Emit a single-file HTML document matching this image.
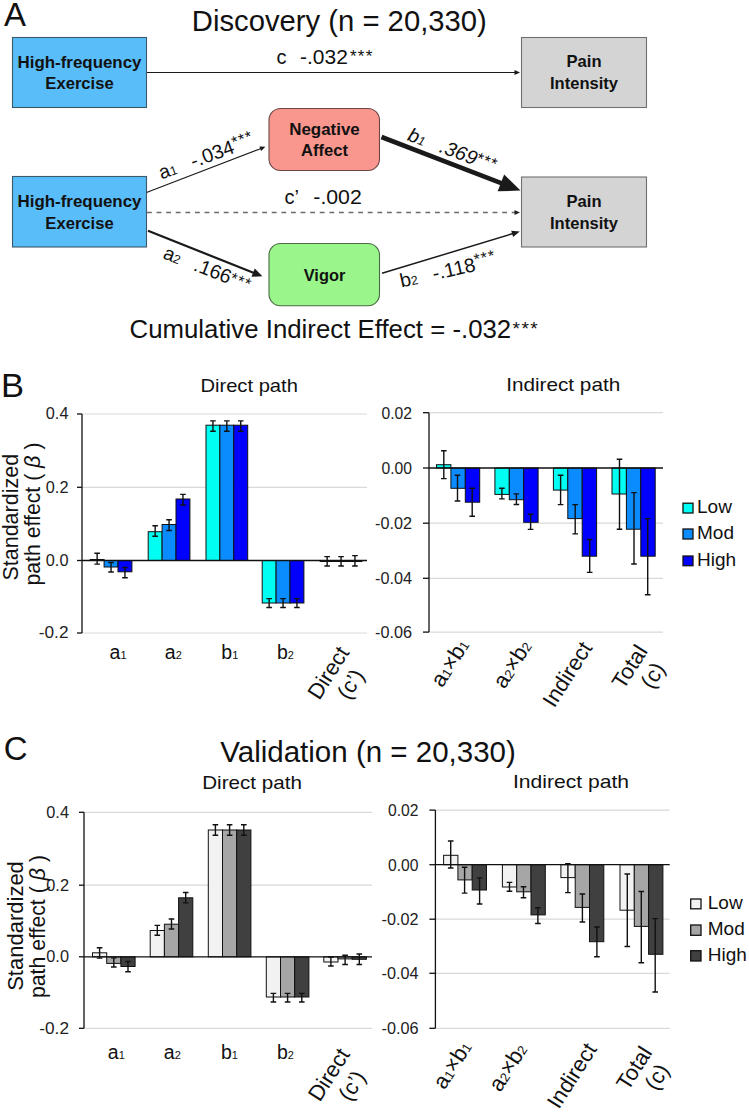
<!DOCTYPE html>
<html><head><meta charset="utf-8"><style>html,body{margin:0;padding:0;background:#fff;width:749px;height:1114px;overflow:hidden;position:relative}</style></head>
<body>
<svg width="749" height="1114" viewBox="0 0 749 1114" style="position:absolute;left:0;top:0;font-family:'Liberation Sans', sans-serif">
<rect width="749" height="1114" fill="#fff"/>
<text style="white-space:pre" x="4.0" y="25.9" font-size="33" text-anchor="start" font-weight="normal" fill="#111" >A</text>
<text style="white-space:pre" x="191.8" y="31" font-size="29.8" text-anchor="start" font-weight="normal" fill="#111" textLength="295" lengthAdjust="spacingAndGlyphs" >Discovery (n = 20,330)</text>
<rect x="12.5" y="37.5" width="134.0" height="70.0" rx="0" fill="#58bdf9" stroke="#3a5a6c" stroke-width="1.1"/>
<text style="white-space:pre" x="79.5" y="68" font-size="16.6" text-anchor="middle" font-weight="bold" fill="#111" textLength="124" lengthAdjust="spacingAndGlyphs" >High-frequency</text>
<text style="white-space:pre" x="79.5" y="88.7" font-size="16.6" text-anchor="middle" font-weight="bold" fill="#111" >Exercise</text>
<rect x="521.5" y="37.5" width="125.0" height="70.0" rx="0" fill="#d4d4d4" stroke="#707070" stroke-width="1.1"/>
<text style="white-space:pre" x="584" y="67.4" font-size="16.6" text-anchor="middle" font-weight="bold" fill="#111" >Pain</text>
<text style="white-space:pre" x="584" y="89.4" font-size="16.6" text-anchor="middle" font-weight="bold" fill="#111" textLength="68" lengthAdjust="spacingAndGlyphs" >Intensity</text>
<rect x="12.5" y="176.5" width="134.0" height="70.5" rx="0" fill="#58bdf9" stroke="#3a5a6c" stroke-width="1.1"/>
<text style="white-space:pre" x="79.5" y="207.4" font-size="16.6" text-anchor="middle" font-weight="bold" fill="#111" textLength="124" lengthAdjust="spacingAndGlyphs" >High-frequency</text>
<text style="white-space:pre" x="79.5" y="228.8" font-size="16.6" text-anchor="middle" font-weight="bold" fill="#111" >Exercise</text>
<rect x="521.5" y="177" width="125.0" height="70" rx="0" fill="#d4d4d4" stroke="#707070" stroke-width="1.1"/>
<text style="white-space:pre" x="584" y="207.3" font-size="16.6" text-anchor="middle" font-weight="bold" fill="#111" >Pain</text>
<text style="white-space:pre" x="584" y="228.6" font-size="16.6" text-anchor="middle" font-weight="bold" fill="#111" textLength="68" lengthAdjust="spacingAndGlyphs" >Intensity</text>
<rect x="269" y="108.5" width="110.5" height="62.0" rx="11.5" fill="#f9968e" stroke="#6b4846" stroke-width="1.1"/>
<text style="white-space:pre" x="324.5" y="134.6" font-size="16.6" text-anchor="middle" font-weight="bold" fill="#111" textLength="70.5" lengthAdjust="spacingAndGlyphs" >Negative</text>
<text style="white-space:pre" x="324.5" y="156" font-size="16.6" text-anchor="middle" font-weight="bold" fill="#111" >Affect</text>
<rect x="269" y="243.5" width="110.5" height="62.30000000000001" rx="11.5" fill="#9af68b" stroke="#4a6a44" stroke-width="1.1"/>
<text style="white-space:pre" x="324.5" y="281" font-size="16.6" text-anchor="middle" font-weight="bold" fill="#111" textLength="41.6" lengthAdjust="spacingAndGlyphs" >Vigor</text>
<line x1="147" y1="72.5" x2="515.50" y2="72.50" stroke="#1a1a1a" stroke-width="1.2"/>
<polygon points="520.00,72.50 514.50,75.00 514.50,70.00" fill="#1a1a1a"/>
<line x1="146.5" y1="192.5" x2="261.20" y2="148.41" stroke="#1a1a1a" stroke-width="1.1"/>
<polygon points="265.40,146.80 261.16,151.11 259.37,146.44" fill="#1a1a1a"/>
<line x1="381.5" y1="137" x2="501.83" y2="183.32" stroke="#1a1a1a" stroke-width="4.6"/>
<polygon points="520.50,190.50 497.67,191.36 504.13,174.56" fill="#1a1a1a"/>
<line x1="147" y1="212.5" x2="515.50" y2="212.50" stroke="#6a6a6a" stroke-width="1.3" stroke-dasharray="4.8,4.8"/>
<polygon points="520.00,212.50 514.50,215.00 514.50,210.00" fill="#222"/>
<line x1="148" y1="230.8" x2="254.04" y2="272.97" stroke="#1a1a1a" stroke-width="2.2"/>
<polygon points="262.40,276.30 251.44,276.79 254.77,268.42" fill="#1a1a1a"/>
<line x1="382" y1="273.3" x2="513.10" y2="233.53" stroke="#1a1a1a" stroke-width="1.5"/>
<polygon points="519.80,231.50 513.09,236.93 511.20,230.71" fill="#1a1a1a"/>
<text style="white-space:pre" x="276.6" y="64.4" font-size="20" text-anchor="start" font-weight="normal" fill="#111" >c</text>
<text style="white-space:pre" x="300" y="64.4" font-size="20.5" text-anchor="start" font-weight="normal" fill="#111" textLength="47.8" lengthAdjust="spacingAndGlyphs" >-.032</text>
<text x="350" y="62" font-size="17" fill="#111" letter-spacing="1.2">***</text>
<text style="white-space:pre" x="284.6" y="204.2" font-size="20" text-anchor="start" font-weight="normal" fill="#111" >c’</text>
<text style="white-space:pre" x="313.3" y="204.2" font-size="20.5" text-anchor="start" font-weight="normal" fill="#111" textLength="48.5" lengthAdjust="spacingAndGlyphs" >-.002</text>
<text style="white-space:pre" x="129.5" y="337.6" font-size="25.8" text-anchor="start" font-weight="normal" fill="#111" textLength="381.7" lengthAdjust="spacingAndGlyphs" >Cumulative Indirect Effect = -.032</text>
<text x="512.5" y="335" font-size="19" fill="#111" letter-spacing="1.5">***</text>
<g transform="translate(161.5,179.5) rotate(-20)"><text style="white-space:pre" x="0" y="0" font-size="19.5" fill="#111"><tspan>a</tspan><tspan font-size="12.5">1</tspan><tspan dx="16" font-size="19.8">-.034</tspan><tspan font-size="16" dy="-5" letter-spacing="1">***</tspan></text></g>
<g transform="translate(162,258) rotate(21.5)"><text style="white-space:pre" x="0" y="0" font-size="19.5" fill="#111"><tspan>a</tspan><tspan font-size="12.5">2</tspan><tspan dx="15" font-size="19.8">.166</tspan><tspan font-size="16" dy="-2" letter-spacing="1">***</tspan></text></g>
<g transform="translate(406.5,140) rotate(20.5)"><text style="white-space:pre" x="0" y="0" font-size="19.5" fill="#111"><tspan font-style="italic">b</tspan><tspan font-size="12.5" font-style="italic">1</tspan><tspan dx="16" font-size="19.8" font-style="italic">.369</tspan><tspan font-size="16" dy="-3" letter-spacing="1">***</tspan></text></g>
<g transform="translate(401.5,287.5) rotate(-12.5)"><text style="white-space:pre" x="0" y="0" font-size="19.5" fill="#111"><tspan>b</tspan><tspan font-size="12.5">2</tspan><tspan dx="15.5" font-size="19.8">-.118</tspan><tspan font-size="16" dy="-6" letter-spacing="1">***</tspan></text></g>
<text style="white-space:pre" x="1.0" y="397" font-size="32.5" text-anchor="start" font-weight="normal" fill="#111" textLength="23" lengthAdjust="spacingAndGlyphs" >B</text>
<text style="white-space:pre" x="200.4" y="391.9" font-size="17.8" text-anchor="start" font-weight="normal" fill="#111" textLength="97.5" lengthAdjust="spacingAndGlyphs" >Direct path</text>
<text style="white-space:pre" x="506.2" y="390.8" font-size="17.8" text-anchor="start" font-weight="normal" fill="#111" textLength="114" lengthAdjust="spacingAndGlyphs" >Indirect path</text>

<line x1="82" y1="414" x2="367" y2="414" stroke="#d9d9d9" stroke-width="1.2"/>
<line x1="82" y1="487.3" x2="367" y2="487.3" stroke="#d9d9d9" stroke-width="1.2"/>
<line x1="82" y1="633" x2="367" y2="633" stroke="#d9d9d9" stroke-width="1.2"/>
<line x1="82" y1="414" x2="82" y2="633" stroke="#111" stroke-width="1.3"/>
<line x1="77" y1="414" x2="82" y2="414" stroke="#111" stroke-width="1.3"/>
<line x1="77" y1="487.3" x2="82" y2="487.3" stroke="#111" stroke-width="1.3"/>
<line x1="77" y1="560.5" x2="82" y2="560.5" stroke="#111" stroke-width="1.3"/>
<line x1="77" y1="633" x2="82" y2="633" stroke="#111" stroke-width="1.3"/>
<text style="white-space:pre" x="68.5" y="419.3" font-size="15.8" text-anchor="end" font-weight="normal" fill="#222" textLength="22.7" lengthAdjust="spacingAndGlyphs" >0.4</text>
<text style="white-space:pre" x="68.5" y="492.6" font-size="15.8" text-anchor="end" font-weight="normal" fill="#222" textLength="22.7" lengthAdjust="spacingAndGlyphs" >0.2</text>
<text style="white-space:pre" x="68.5" y="565.8" font-size="15.8" text-anchor="end" font-weight="normal" fill="#222" textLength="22.7" lengthAdjust="spacingAndGlyphs" >0.0</text>
<text style="white-space:pre" x="68.5" y="638.3" font-size="15.8" text-anchor="end" font-weight="normal" fill="#222" textLength="29.7" lengthAdjust="spacingAndGlyphs" >-0.2</text>
<rect x="90.20" y="559.50" width="13.90" height="1.00" fill="#00fff2" stroke="#111" stroke-width="1"/>
<rect x="104.10" y="560.50" width="13.90" height="6.50" fill="#0a8cff" stroke="#111" stroke-width="1"/>
<rect x="118.00" y="560.50" width="13.90" height="11.30" fill="#0000ff" stroke="#111" stroke-width="1"/>
<rect x="148.20" y="531.70" width="13.90" height="28.80" fill="#00fff2" stroke="#111" stroke-width="1"/>
<rect x="162.10" y="524.50" width="13.90" height="36.00" fill="#0a8cff" stroke="#111" stroke-width="1"/>
<rect x="176.00" y="499.00" width="13.90" height="61.50" fill="#0000ff" stroke="#111" stroke-width="1"/>
<rect x="206.00" y="425.20" width="13.90" height="135.30" fill="#00fff2" stroke="#111" stroke-width="1"/>
<rect x="219.90" y="425.20" width="13.90" height="135.30" fill="#0a8cff" stroke="#111" stroke-width="1"/>
<rect x="233.80" y="425.20" width="13.90" height="135.30" fill="#0000ff" stroke="#111" stroke-width="1"/>
<rect x="262.20" y="560.50" width="13.90" height="42.50" fill="#00fff2" stroke="#111" stroke-width="1"/>
<rect x="276.10" y="560.50" width="13.90" height="42.50" fill="#0a8cff" stroke="#111" stroke-width="1"/>
<rect x="290.00" y="560.50" width="13.90" height="42.50" fill="#0000ff" stroke="#111" stroke-width="1"/>
<rect x="320.20" y="560.50" width="13.90" height="1.00" fill="#00fff2" stroke="#111" stroke-width="1"/>
<rect x="334.10" y="560.50" width="13.90" height="1.00" fill="#0a8cff" stroke="#111" stroke-width="1"/>
<rect x="348.00" y="560.50" width="13.90" height="1.00" fill="#0000ff" stroke="#111" stroke-width="1"/>
<line x1="82" y1="560.5" x2="367" y2="560.5" stroke="#111" stroke-width="1.3"/>
<path d="M97.15,553.3 V564.1 M94.35,553.3 h5.6 M94.35,564.1 h5.6" stroke="#111" stroke-width="1.4" fill="none"/>
<path d="M111.05,562.5 V572 M108.25,562.5 h5.6 M108.25,572 h5.6" stroke="#111" stroke-width="1.4" fill="none"/>
<path d="M124.95,567.5 V577.8 M122.15,567.5 h5.6 M122.15,577.8 h5.6" stroke="#111" stroke-width="1.4" fill="none"/>
<path d="M155.15,525.7 V536.3 M152.35,525.7 h5.6 M152.35,536.3 h5.6" stroke="#111" stroke-width="1.4" fill="none"/>
<path d="M169.05,519.7 V530.5 M166.25,519.7 h5.6 M166.25,530.5 h5.6" stroke="#111" stroke-width="1.4" fill="none"/>
<path d="M182.95,494.4 V505 M180.15,494.4 h5.6 M180.15,505 h5.6" stroke="#111" stroke-width="1.4" fill="none"/>
<path d="M212.95,420.9 V431.2 M210.15,420.9 h5.6 M210.15,431.2 h5.6" stroke="#111" stroke-width="1.4" fill="none"/>
<path d="M226.85,420.9 V431.2 M224.05,420.9 h5.6 M224.05,431.2 h5.6" stroke="#111" stroke-width="1.4" fill="none"/>
<path d="M240.75,420.9 V431.2 M237.95,420.9 h5.6 M237.95,431.2 h5.6" stroke="#111" stroke-width="1.4" fill="none"/>
<path d="M269.15,598.6 V607.5 M266.35,598.6 h5.6 M266.35,607.5 h5.6" stroke="#111" stroke-width="1.4" fill="none"/>
<path d="M283.05,598.6 V607.5 M280.25,598.6 h5.6 M280.25,607.5 h5.6" stroke="#111" stroke-width="1.4" fill="none"/>
<path d="M296.95,598.6 V607.5 M294.15,598.6 h5.6 M294.15,607.5 h5.6" stroke="#111" stroke-width="1.4" fill="none"/>
<path d="M327.15,556.6 V566 M324.35,556.6 h5.6 M324.35,566 h5.6" stroke="#111" stroke-width="1.4" fill="none"/>
<path d="M341.05,556.6 V566 M338.25,556.6 h5.6 M338.25,566 h5.6" stroke="#111" stroke-width="1.4" fill="none"/>
<path d="M354.95,555.6 V566 M352.15,555.6 h5.6 M352.15,566 h5.6" stroke="#111" stroke-width="1.4" fill="none"/>
<line x1="429.0" y1="412.7" x2="663" y2="412.7" stroke="#d9d9d9" stroke-width="1.2"/>
<line x1="429.0" y1="523.2" x2="663" y2="523.2" stroke="#d9d9d9" stroke-width="1.2"/>
<line x1="429.0" y1="578.3" x2="663" y2="578.3" stroke="#d9d9d9" stroke-width="1.2"/>
<line x1="429.0" y1="632.1" x2="663" y2="632.1" stroke="#d9d9d9" stroke-width="1.2"/>
<line x1="429.0" y1="412.7" x2="429.0" y2="632.1" stroke="#111" stroke-width="1.3"/>
<line x1="423.0" y1="412.7" x2="429.0" y2="412.7" stroke="#111" stroke-width="1.3"/>
<line x1="423.0" y1="468" x2="429.0" y2="468" stroke="#111" stroke-width="1.3"/>
<line x1="423.0" y1="523.2" x2="429.0" y2="523.2" stroke="#111" stroke-width="1.3"/>
<line x1="423.0" y1="578.3" x2="429.0" y2="578.3" stroke="#111" stroke-width="1.3"/>
<line x1="423.0" y1="632.1" x2="429.0" y2="632.1" stroke="#111" stroke-width="1.3"/>
<text style="white-space:pre" x="412" y="418.7" font-size="15.8" text-anchor="end" font-weight="normal" fill="#222" textLength="30.5" lengthAdjust="spacingAndGlyphs" >0.02</text>
<text style="white-space:pre" x="412" y="474" font-size="15.8" text-anchor="end" font-weight="normal" fill="#222" textLength="30.5" lengthAdjust="spacingAndGlyphs" >0.00</text>
<text style="white-space:pre" x="412" y="529.2" font-size="15.8" text-anchor="end" font-weight="normal" fill="#222" textLength="37" lengthAdjust="spacingAndGlyphs" >-0.02</text>
<text style="white-space:pre" x="412" y="584.3" font-size="15.8" text-anchor="end" font-weight="normal" fill="#222" textLength="37" lengthAdjust="spacingAndGlyphs" >-0.04</text>
<text style="white-space:pre" x="412" y="638.1" font-size="15.8" text-anchor="end" font-weight="normal" fill="#222" textLength="37" lengthAdjust="spacingAndGlyphs" >-0.06</text>
<rect x="436.50" y="464.70" width="14.40" height="3.30" fill="#00fff2" stroke="#111" stroke-width="1"/>
<rect x="450.90" y="468.00" width="14.40" height="20.30" fill="#0a8cff" stroke="#111" stroke-width="1"/>
<rect x="465.30" y="468.00" width="14.40" height="34.20" fill="#0000ff" stroke="#111" stroke-width="1"/>
<rect x="494.90" y="468.00" width="14.40" height="26.40" fill="#00fff2" stroke="#111" stroke-width="1"/>
<rect x="509.30" y="468.00" width="14.40" height="31.70" fill="#0a8cff" stroke="#111" stroke-width="1"/>
<rect x="523.70" y="468.00" width="14.40" height="54.30" fill="#0000ff" stroke="#111" stroke-width="1"/>
<rect x="553.40" y="468.00" width="14.40" height="22.10" fill="#00fff2" stroke="#111" stroke-width="1"/>
<rect x="567.80" y="468.00" width="14.40" height="50.60" fill="#0a8cff" stroke="#111" stroke-width="1"/>
<rect x="582.20" y="468.00" width="14.40" height="88.20" fill="#0000ff" stroke="#111" stroke-width="1"/>
<rect x="612.00" y="468.00" width="14.40" height="26.00" fill="#00fff2" stroke="#111" stroke-width="1"/>
<rect x="626.40" y="468.00" width="14.40" height="61.20" fill="#0a8cff" stroke="#111" stroke-width="1"/>
<rect x="640.80" y="468.00" width="14.40" height="88.20" fill="#0000ff" stroke="#111" stroke-width="1"/>
<line x1="429.0" y1="468" x2="663" y2="468" stroke="#111" stroke-width="1.3"/>
<path d="M443.80,450.7 V478.6 M441.00,450.7 h5.6 M441.00,478.6 h5.6" stroke="#111" stroke-width="1.4" fill="none"/>
<path d="M457.50,475.3 V501 M454.70,475.3 h5.6 M454.70,501 h5.6" stroke="#111" stroke-width="1.4" fill="none"/>
<path d="M472.20,488.3 V516.2 M469.40,488.3 h5.6 M469.40,516.2 h5.6" stroke="#111" stroke-width="1.4" fill="none"/>
<path d="M501.90,488.3 V498.9 M499.10,488.3 h5.6 M499.10,498.9 h5.6" stroke="#111" stroke-width="1.4" fill="none"/>
<path d="M516.40,493.9 V504.5 M513.60,493.9 h5.6 M513.60,504.5 h5.6" stroke="#111" stroke-width="1.4" fill="none"/>
<path d="M530.60,514.2 V529.4 M527.80,514.2 h5.6 M527.80,529.4 h5.6" stroke="#111" stroke-width="1.4" fill="none"/>
<path d="M560.60,475.3 V504.6 M557.80,475.3 h5.6 M557.80,504.6 h5.6" stroke="#111" stroke-width="1.4" fill="none"/>
<path d="M575.20,504.6 V533.9 M572.40,504.6 h5.6 M572.40,533.9 h5.6" stroke="#111" stroke-width="1.4" fill="none"/>
<path d="M589.70,539.5 V572.4 M586.90,539.5 h5.6 M586.90,572.4 h5.6" stroke="#111" stroke-width="1.4" fill="none"/>
<path d="M619.50,459.2 V529.2 M616.70,459.2 h5.6 M616.70,529.2 h5.6" stroke="#111" stroke-width="1.4" fill="none"/>
<path d="M634.00,492.6 V564 M631.20,492.6 h5.6 M631.20,564 h5.6" stroke="#111" stroke-width="1.4" fill="none"/>
<path d="M647.70,518.6 V594.8 M644.90,518.6 h5.6 M644.90,594.8 h5.6" stroke="#111" stroke-width="1.4" fill="none"/>
<rect x="683" y="503.2" width="10" height="9.800000000000011" fill="#00fff2" stroke="#111" stroke-width="1.3"/>
<text style="white-space:pre" x="697" y="513" font-size="19" text-anchor="start" font-weight="normal" fill="#111" >Low</text>
<rect x="683" y="529" width="10" height="10" fill="#0a8cff" stroke="#111" stroke-width="1.3"/>
<text style="white-space:pre" x="697" y="539" font-size="19" text-anchor="start" font-weight="normal" fill="#111" >Mod</text>
<rect x="683" y="556" width="10" height="9.700000000000045" fill="#0000ff" stroke="#111" stroke-width="1.3"/>
<text style="white-space:pre" x="697" y="565.5" font-size="19" text-anchor="start" font-weight="normal" fill="#111" >High</text>
<text style="white-space:pre" x="3.7" y="759.8" font-size="33" text-anchor="start" font-weight="normal" fill="#111" >C</text>
<text style="white-space:pre" x="220.3" y="762.2" font-size="29.8" text-anchor="start" font-weight="normal" fill="#111" textLength="295.5" lengthAdjust="spacingAndGlyphs" >Validation (n = 20,330)</text>
<text style="white-space:pre" x="202.2" y="788.8" font-size="18.5" text-anchor="start" font-weight="normal" fill="#111" textLength="99.8" lengthAdjust="spacingAndGlyphs" >Direct path</text>
<text style="white-space:pre" x="513" y="788" font-size="18.5" text-anchor="start" font-weight="normal" fill="#111" textLength="116" lengthAdjust="spacingAndGlyphs" >Indirect path</text>

<line x1="84" y1="812.3" x2="372" y2="812.3" stroke="#d9d9d9" stroke-width="1.2"/>
<line x1="84" y1="885.2" x2="372" y2="885.2" stroke="#d9d9d9" stroke-width="1.2"/>
<line x1="84" y1="1028.3" x2="372" y2="1028.3" stroke="#d9d9d9" stroke-width="1.2"/>
<line x1="84" y1="812.3" x2="84" y2="1028.3" stroke="#111" stroke-width="1.3"/>
<line x1="79" y1="812.3" x2="84" y2="812.3" stroke="#111" stroke-width="1.3"/>
<line x1="79" y1="885.2" x2="84" y2="885.2" stroke="#111" stroke-width="1.3"/>
<line x1="79" y1="956.8" x2="84" y2="956.8" stroke="#111" stroke-width="1.3"/>
<line x1="79" y1="1028.3" x2="84" y2="1028.3" stroke="#111" stroke-width="1.3"/>
<text style="white-space:pre" x="69" y="817.5999999999999" font-size="15.8" text-anchor="end" font-weight="normal" fill="#222" textLength="22.7" lengthAdjust="spacingAndGlyphs" >0.4</text>
<text style="white-space:pre" x="69" y="890.5" font-size="15.8" text-anchor="end" font-weight="normal" fill="#222" textLength="22.7" lengthAdjust="spacingAndGlyphs" >0.2</text>
<text style="white-space:pre" x="69" y="962.0999999999999" font-size="15.8" text-anchor="end" font-weight="normal" fill="#222" textLength="22.7" lengthAdjust="spacingAndGlyphs" >0.0</text>
<text style="white-space:pre" x="69" y="1033.6" font-size="15.8" text-anchor="end" font-weight="normal" fill="#222" textLength="29.7" lengthAdjust="spacingAndGlyphs" >-0.2</text>
<rect x="92.50" y="952.80" width="14.20" height="4.00" fill="#f2f2f2" stroke="#111" stroke-width="1"/>
<rect x="106.70" y="956.80" width="14.20" height="6.60" fill="#a6a6a6" stroke="#111" stroke-width="1"/>
<rect x="120.90" y="956.80" width="14.20" height="9.70" fill="#404040" stroke="#111" stroke-width="1"/>
<rect x="150.20" y="930.50" width="14.20" height="26.30" fill="#f2f2f2" stroke="#111" stroke-width="1"/>
<rect x="164.40" y="924.20" width="14.20" height="32.60" fill="#a6a6a6" stroke="#111" stroke-width="1"/>
<rect x="178.60" y="897.80" width="14.20" height="59.00" fill="#404040" stroke="#111" stroke-width="1"/>
<rect x="208.30" y="830.00" width="14.20" height="126.80" fill="#f2f2f2" stroke="#111" stroke-width="1"/>
<rect x="222.50" y="830.00" width="14.20" height="126.80" fill="#a6a6a6" stroke="#111" stroke-width="1"/>
<rect x="236.70" y="830.00" width="14.20" height="126.80" fill="#404040" stroke="#111" stroke-width="1"/>
<rect x="266.30" y="956.80" width="14.20" height="40.20" fill="#f2f2f2" stroke="#111" stroke-width="1"/>
<rect x="280.50" y="956.80" width="14.20" height="40.20" fill="#a6a6a6" stroke="#111" stroke-width="1"/>
<rect x="294.70" y="956.80" width="14.20" height="40.20" fill="#404040" stroke="#111" stroke-width="1"/>
<rect x="323.80" y="956.80" width="14.20" height="5.20" fill="#f2f2f2" stroke="#111" stroke-width="1"/>
<rect x="338.00" y="956.80" width="14.20" height="2.10" fill="#a6a6a6" stroke="#111" stroke-width="1"/>
<rect x="352.20" y="956.80" width="14.20" height="2.50" fill="#404040" stroke="#111" stroke-width="1"/>
<line x1="84" y1="956.8" x2="372" y2="956.8" stroke="#111" stroke-width="1.3"/>
<path d="M99.60,947.8 V958.1 M96.80,947.8 h5.6 M96.80,958.1 h5.6" stroke="#111" stroke-width="1.4" fill="none"/>
<path d="M113.80,957.9 V967 M111.00,957.9 h5.6 M111.00,967 h5.6" stroke="#111" stroke-width="1.4" fill="none"/>
<path d="M128.00,961.5 V971.8 M125.20,961.5 h5.6 M125.20,971.8 h5.6" stroke="#111" stroke-width="1.4" fill="none"/>
<path d="M157.30,925.4 V935.3 M154.50,925.4 h5.6 M154.50,935.3 h5.6" stroke="#111" stroke-width="1.4" fill="none"/>
<path d="M171.50,919 V929 M168.70,919 h5.6 M168.70,929 h5.6" stroke="#111" stroke-width="1.4" fill="none"/>
<path d="M185.70,892.5 V902.9 M182.90,892.5 h5.6 M182.90,902.9 h5.6" stroke="#111" stroke-width="1.4" fill="none"/>
<path d="M215.40,824.8 V835.3 M212.60,824.8 h5.6 M212.60,835.3 h5.6" stroke="#111" stroke-width="1.4" fill="none"/>
<path d="M229.60,824.8 V835.3 M226.80,824.8 h5.6 M226.80,835.3 h5.6" stroke="#111" stroke-width="1.4" fill="none"/>
<path d="M243.80,824.8 V835.3 M241.00,824.8 h5.6 M241.00,835.3 h5.6" stroke="#111" stroke-width="1.4" fill="none"/>
<path d="M273.40,993.4 V1002 M270.60,993.4 h5.6 M270.60,1002 h5.6" stroke="#111" stroke-width="1.4" fill="none"/>
<path d="M287.60,993.4 V1002 M284.80,993.4 h5.6 M284.80,1002 h5.6" stroke="#111" stroke-width="1.4" fill="none"/>
<path d="M301.80,993.4 V1002 M299.00,993.4 h5.6 M299.00,1002 h5.6" stroke="#111" stroke-width="1.4" fill="none"/>
<path d="M330.90,957 V966 M328.10,957 h5.6 M328.10,966 h5.6" stroke="#111" stroke-width="1.4" fill="none"/>
<path d="M345.10,955.3 V964.5 M342.30,955.3 h5.6 M342.30,964.5 h5.6" stroke="#111" stroke-width="1.4" fill="none"/>
<path d="M359.30,954 V964.5 M356.50,954 h5.6 M356.50,964.5 h5.6" stroke="#111" stroke-width="1.4" fill="none"/>
<line x1="435.4" y1="810.1" x2="669.7" y2="810.1" stroke="#d9d9d9" stroke-width="1.2"/>
<line x1="435.4" y1="919.2" x2="669.7" y2="919.2" stroke="#d9d9d9" stroke-width="1.2"/>
<line x1="435.4" y1="973.3" x2="669.7" y2="973.3" stroke="#d9d9d9" stroke-width="1.2"/>
<line x1="435.4" y1="1028.3" x2="669.7" y2="1028.3" stroke="#d9d9d9" stroke-width="1.2"/>
<line x1="435.4" y1="810.1" x2="435.4" y2="1028.3" stroke="#111" stroke-width="1.3"/>
<line x1="429.4" y1="810.1" x2="435.4" y2="810.1" stroke="#111" stroke-width="1.3"/>
<line x1="429.4" y1="864.7" x2="435.4" y2="864.7" stroke="#111" stroke-width="1.3"/>
<line x1="429.4" y1="919.2" x2="435.4" y2="919.2" stroke="#111" stroke-width="1.3"/>
<line x1="429.4" y1="973.3" x2="435.4" y2="973.3" stroke="#111" stroke-width="1.3"/>
<line x1="429.4" y1="1028.3" x2="435.4" y2="1028.3" stroke="#111" stroke-width="1.3"/>
<text style="white-space:pre" x="418.5" y="816.1" font-size="15.8" text-anchor="end" font-weight="normal" fill="#222" textLength="30.5" lengthAdjust="spacingAndGlyphs" >0.02</text>
<text style="white-space:pre" x="418.5" y="870.7" font-size="15.8" text-anchor="end" font-weight="normal" fill="#222" textLength="30.5" lengthAdjust="spacingAndGlyphs" >0.00</text>
<text style="white-space:pre" x="418.5" y="925.2" font-size="15.8" text-anchor="end" font-weight="normal" fill="#222" textLength="37" lengthAdjust="spacingAndGlyphs" >-0.02</text>
<text style="white-space:pre" x="418.5" y="979.3" font-size="15.8" text-anchor="end" font-weight="normal" fill="#222" textLength="37" lengthAdjust="spacingAndGlyphs" >-0.04</text>
<text style="white-space:pre" x="418.5" y="1034.3" font-size="15.8" text-anchor="end" font-weight="normal" fill="#222" textLength="37" lengthAdjust="spacingAndGlyphs" >-0.06</text>
<rect x="443.60" y="855.30" width="14.30" height="9.40" fill="#f2f2f2" stroke="#111" stroke-width="1"/>
<rect x="457.90" y="864.70" width="14.30" height="15.20" fill="#a6a6a6" stroke="#111" stroke-width="1"/>
<rect x="472.20" y="864.70" width="14.30" height="25.30" fill="#404040" stroke="#111" stroke-width="1"/>
<rect x="502.40" y="864.70" width="14.30" height="22.30" fill="#f2f2f2" stroke="#111" stroke-width="1"/>
<rect x="516.70" y="864.70" width="14.30" height="27.10" fill="#a6a6a6" stroke="#111" stroke-width="1"/>
<rect x="531.00" y="864.70" width="14.30" height="50.20" fill="#404040" stroke="#111" stroke-width="1"/>
<rect x="560.90" y="864.70" width="14.30" height="12.90" fill="#f2f2f2" stroke="#111" stroke-width="1"/>
<rect x="575.20" y="864.70" width="14.30" height="42.70" fill="#a6a6a6" stroke="#111" stroke-width="1"/>
<rect x="589.50" y="864.70" width="14.30" height="77.00" fill="#404040" stroke="#111" stroke-width="1"/>
<rect x="620.00" y="864.70" width="14.30" height="45.50" fill="#f2f2f2" stroke="#111" stroke-width="1"/>
<rect x="634.30" y="864.70" width="14.30" height="61.70" fill="#a6a6a6" stroke="#111" stroke-width="1"/>
<rect x="648.60" y="864.70" width="14.30" height="89.60" fill="#404040" stroke="#111" stroke-width="1"/>
<line x1="435.4" y1="864.7" x2="669.7" y2="864.7" stroke="#111" stroke-width="1.3"/>
<path d="M450.70,841 V868 M447.90,841 h5.6 M447.90,868 h5.6" stroke="#111" stroke-width="1.4" fill="none"/>
<path d="M464.60,867.2 V893.1 M461.80,867.2 h5.6 M461.80,893.1 h5.6" stroke="#111" stroke-width="1.4" fill="none"/>
<path d="M479.60,877.9 V904 M476.80,877.9 h5.6 M476.80,904 h5.6" stroke="#111" stroke-width="1.4" fill="none"/>
<path d="M509.50,882.4 V891.3 M506.70,882.4 h5.6 M506.70,891.3 h5.6" stroke="#111" stroke-width="1.4" fill="none"/>
<path d="M523.50,886.8 V897.7 M520.70,886.8 h5.6 M520.70,897.7 h5.6" stroke="#111" stroke-width="1.4" fill="none"/>
<path d="M537.90,907.8 V923.5 M535.10,907.8 h5.6 M535.10,923.5 h5.6" stroke="#111" stroke-width="1.4" fill="none"/>
<path d="M567.90,863.6 V892.6 M565.10,863.6 h5.6 M565.10,892.6 h5.6" stroke="#111" stroke-width="1.4" fill="none"/>
<path d="M582.40,894 V922 M579.60,894 h5.6 M579.60,922 h5.6" stroke="#111" stroke-width="1.4" fill="none"/>
<path d="M596.90,927 V956.8 M594.10,927 h5.6 M594.10,956.8 h5.6" stroke="#111" stroke-width="1.4" fill="none"/>
<path d="M627.30,874 V946.5 M624.50,874 h5.6 M624.50,946.5 h5.6" stroke="#111" stroke-width="1.4" fill="none"/>
<path d="M641.30,891.5 V962.7 M638.50,891.5 h5.6 M638.50,962.7 h5.6" stroke="#111" stroke-width="1.4" fill="none"/>
<path d="M655.20,918.6 V992 M652.40,918.6 h5.6 M652.40,992 h5.6" stroke="#111" stroke-width="1.4" fill="none"/>
<rect x="690.7" y="899" width="10.299999999999955" height="9.799999999999955" fill="#f2f2f2" stroke="#111" stroke-width="1.3"/>
<text style="white-space:pre" x="707.8" y="908.8" font-size="19" text-anchor="start" font-weight="normal" fill="#111" >Low</text>
<rect x="690.7" y="925" width="10.299999999999955" height="10.299999999999955" fill="#a6a6a6" stroke="#111" stroke-width="1.3"/>
<text style="white-space:pre" x="707.8" y="935.3" font-size="19" text-anchor="start" font-weight="normal" fill="#111" >Mod</text>
<rect x="690.7" y="950.7" width="10.299999999999955" height="10.299999999999955" fill="#404040" stroke="#111" stroke-width="1.3"/>
<text style="white-space:pre" x="707.8" y="961.3" font-size="19" text-anchor="start" font-weight="normal" fill="#111" >High</text>
<g transform="translate(17.8,580.6) rotate(-90)"><text x="0" y="0" font-size="21.5" fill="#111">Standardized</text></g>
<g transform="translate(39.6,585.5) rotate(-90)"><text style="white-space:pre" x="0" y="0" font-size="21.5" fill="#111" textLength="143" lengthAdjust="spacingAndGlyphs">path effect ( <tspan font-style="italic" font-size="22">β</tspan> )</text></g>
<g transform="translate(22.5,990.8) rotate(-90)"><text x="0" y="0" font-size="22" fill="#111">Standardized</text></g>
<g transform="translate(44.5,998) rotate(-90)"><text style="white-space:pre" x="0" y="0" font-size="21.5" fill="#111" textLength="143" lengthAdjust="spacingAndGlyphs">path effect ( <tspan font-style="italic" font-size="22">β</tspan> )</text></g>
<text style="white-space:pre" x="109.6" y="658.7" font-size="19.5" fill="#111">a<tspan font-size="11">1</tspan></text>
<text style="white-space:pre" x="164.8" y="658.7" font-size="19.5" fill="#111">a<tspan font-size="11">2</tspan></text>
<text style="white-space:pre" x="221.3" y="658.7" font-size="19.5" fill="#111">b<tspan font-size="11">1</tspan></text>
<text style="white-space:pre" x="277" y="658.7" font-size="19.5" fill="#111">b<tspan font-size="11">2</tspan></text>
<text style="white-space:pre" x="107.8" y="1059.4" font-size="19.5" fill="#111">a<tspan font-size="11">1</tspan></text>
<text style="white-space:pre" x="163.8" y="1059.4" font-size="19.5" fill="#111">a<tspan font-size="11">2</tspan></text>
<text style="white-space:pre" x="220.9" y="1059.4" font-size="19.5" fill="#111">b<tspan font-size="11">1</tspan></text>
<text style="white-space:pre" x="277" y="1059.4" font-size="19.5" fill="#111">b<tspan font-size="11">2</tspan></text>
<g transform="translate(350.0,652.5) rotate(-57.5)"><text style="white-space:pre" x="0" y="0" font-size="22" fill="#111" text-anchor="end">Direct</text></g>
<g transform="translate(365.1,675.2) rotate(-57.5)"><text style="white-space:pre" x="0" y="0" font-size="22" fill="#111" text-anchor="end">(c’)</text></g>
<g transform="translate(470.0,644.9) rotate(-57.5)"><text style="white-space:pre" x="0" y="0" font-size="22" fill="#111" text-anchor="end">a<tspan font-size="13">1</tspan>×b<tspan font-size="13">1</tspan></text></g>
<g transform="translate(532.4,646.1) rotate(-57.5)"><text style="white-space:pre" x="0" y="0" font-size="22" fill="#111" text-anchor="end">a<tspan font-size="13">2</tspan>×b<tspan font-size="13">2</tspan></text></g>
<g transform="translate(593.0,647.8) rotate(-57.5)"><text style="white-space:pre" x="0" y="0" font-size="22" fill="#111" text-anchor="end">Indirect</text></g>
<g transform="translate(648.4,651.2) rotate(-57.5)"><text style="white-space:pre" x="0" y="0" font-size="22" fill="#111" text-anchor="end">Total</text></g>
<g transform="translate(666.0,668.6) rotate(-57.5)"><text style="white-space:pre" x="0" y="0" font-size="22" fill="#111" text-anchor="end">(c)</text></g>
<g transform="translate(350.6,1054.4) rotate(-57.5)"><text style="white-space:pre" x="0" y="0" font-size="22" fill="#111" text-anchor="end">Direct</text></g>
<g transform="translate(366.4,1076.8) rotate(-57.5)"><text style="white-space:pre" x="0" y="0" font-size="22" fill="#111" text-anchor="end">(c’)</text></g>
<g transform="translate(472.4,1046.8) rotate(-57.5)"><text style="white-space:pre" x="0" y="0" font-size="22" fill="#111" text-anchor="end">a<tspan font-size="13">1</tspan>×b<tspan font-size="13">1</tspan></text></g>
<g transform="translate(528.0,1049.3) rotate(-57.5)"><text style="white-space:pre" x="0" y="0" font-size="22" fill="#111" text-anchor="end">a<tspan font-size="13">2</tspan>×b<tspan font-size="13">2</tspan></text></g>
<g transform="translate(597.6,1049.2) rotate(-57.5)"><text style="white-space:pre" x="0" y="0" font-size="22" fill="#111" text-anchor="end">Indirect</text></g>
<g transform="translate(652.9,1052.5) rotate(-57.5)"><text style="white-space:pre" x="0" y="0" font-size="22" fill="#111" text-anchor="end">Total</text></g>
<g transform="translate(670.1,1070.1) rotate(-57.5)"><text style="white-space:pre" x="0" y="0" font-size="22" fill="#111" text-anchor="end">(c)</text></g>
</svg>
</body></html>
